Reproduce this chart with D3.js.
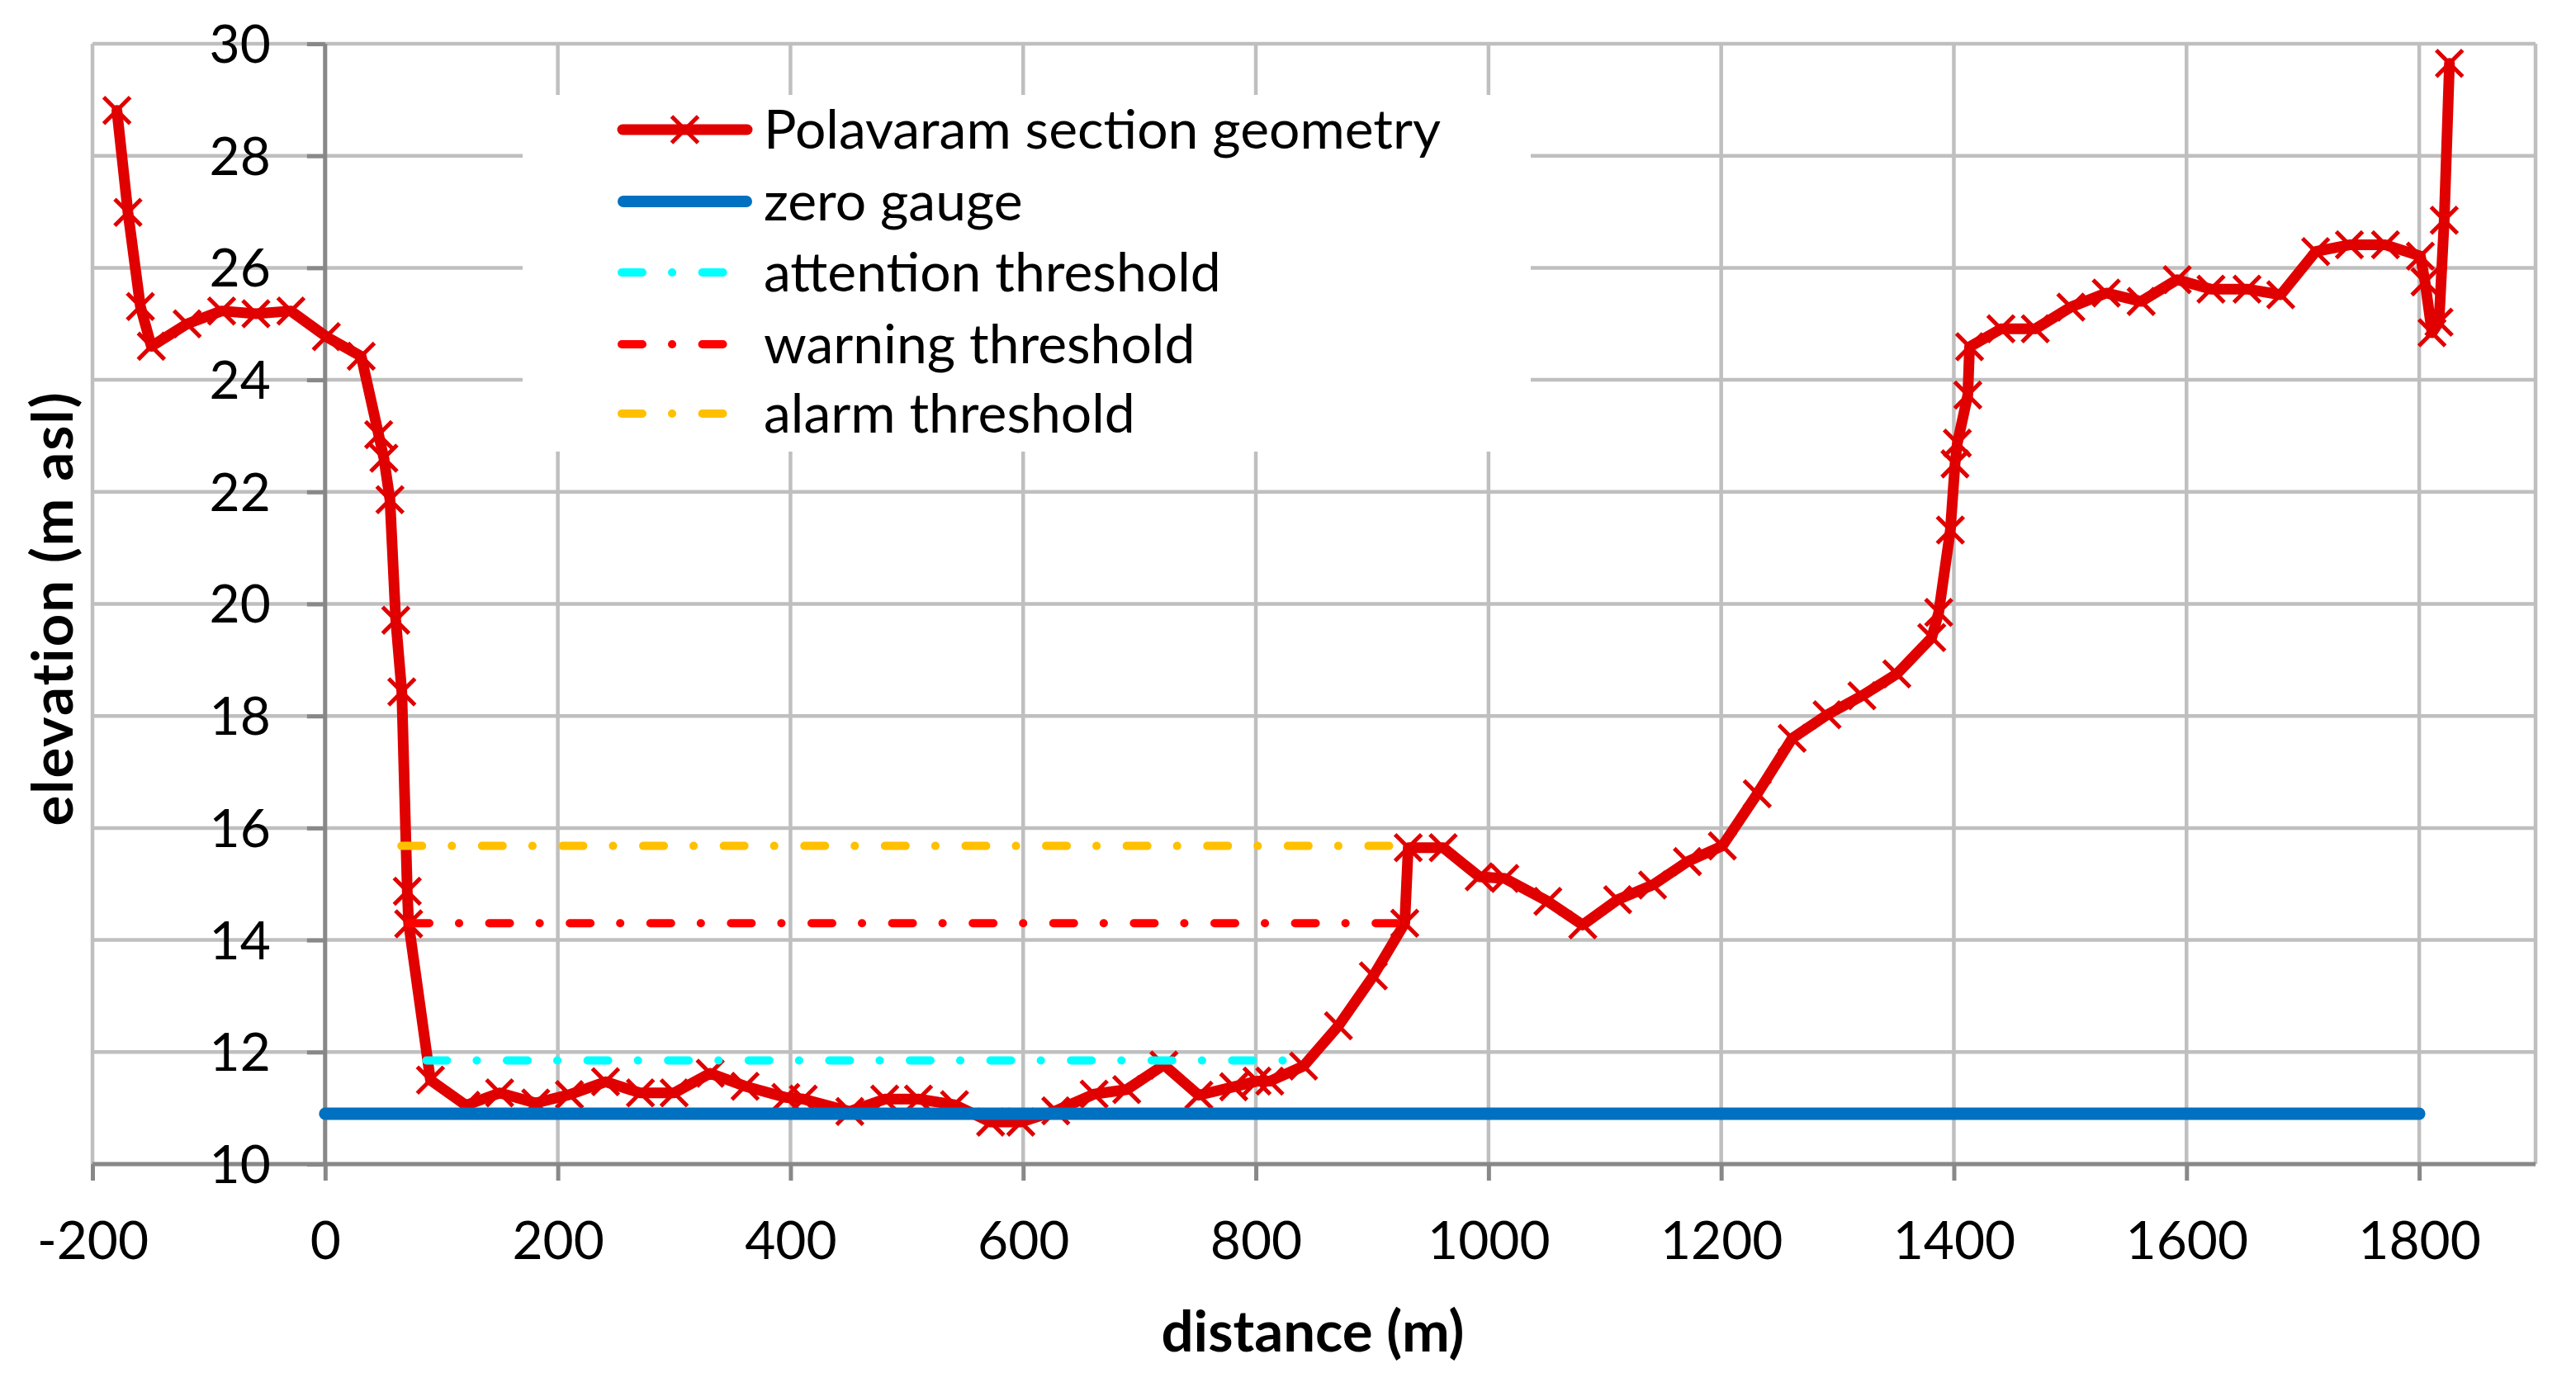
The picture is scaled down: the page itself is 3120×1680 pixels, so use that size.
<!DOCTYPE html>
<html>
<head>
<meta charset="utf-8">
<script src="https://cdn.jsdelivr.net/npm/d3@7"></script>
<style>
  html, body { margin: 0; padding: 0; background: #ffffff; }
  svg { display: block; }
  text { font-family: Lato, "Noto Sans", sans-serif; fill: #000; }
</style>
</head>
<body>
<svg id="chart" width="3120" height="1680"></svg>
<script>
// ---------------- data ----------------
const distance = [
  -179, -169.5, -158.8, -149.4, -118.6, -89, -59.5, -29.4, 1, 31,
  46, 50.5, 55.7, 60.7, 65.9, 70.6, 71.8, 90.5, 121, 150,
  181, 210, 241, 271, 300, 331, 361, 396, 411, 451,
  481, 510, 541, 572, 598, 628, 661, 689, 721, 751,
  781, 801, 812, 841, 871, 901, 928, 931, 961, 992,
  1014, 1051, 1081, 1111, 1141, 1171, 1201, 1231, 1261, 1291,
  1321, 1351, 1381, 1387, 1397, 1401, 1403, 1412, 1413.5, 1440.5,
  1470, 1500.6, 1531, 1561, 1592, 1621, 1652, 1681, 1711, 1740,
  1771, 1801, 1805, 1811, 1817, 1821.5, 1826
];
const elevation = [
  28.81, 26.99, 25.31, 24.60, 25.00, 25.23, 25.18, 25.23, 24.77, 24.42,
  23.02, 22.60, 21.86, 19.71, 18.43, 14.87, 14.29, 11.50, 11.05, 11.27,
  11.09, 11.24, 11.47, 11.27, 11.27, 11.62, 11.39, 11.19, 11.16, 10.94,
  11.16, 11.16, 11.06, 10.75, 10.75, 10.95, 11.25, 11.33, 11.77, 11.23,
  11.38, 11.48, 11.48, 11.75, 12.47, 13.36, 14.30, 15.65, 15.65, 15.13,
  15.10, 14.69, 14.27, 14.72, 14.98, 15.40, 15.68, 16.61, 17.60, 18.02,
  18.36, 18.75, 19.40, 19.85, 21.32, 22.50, 22.87, 23.73, 24.59, 24.91,
  24.91, 25.30, 25.55, 25.40, 25.79, 25.62, 25.62, 25.52, 26.29, 26.41,
  26.41, 26.21, 25.75, 24.84, 25.03, 26.85, 29.65
];
const zeroGaugeLevel = 10.9;
const zeroGaugeRange = [0, 1800];

const thresholdNames  = ["attention threshold", "warning threshold", "alarm threshold"];
const thresholdLevels = [11.85, 14.30, 15.68];
const thresholdStart  = [87, 71.8, 65.6];
const thresholdEnd    = [845, 928, 931];
const thresholdColors = ["#00FFFF", "#FF0000", "#FFC000"];

const seriesNames = ["Polavaram section geometry", "zero gauge"];
const xTicks = [-200, 0, 200, 400, 600, 800, 1000, 1200, 1400, 1600, 1800];
const yTicks = [10, 12, 14, 16, 18, 20, 22, 24, 26, 28, 30];
const xDomain = [-200, 1900];
const yDomain = [10, 30];
const xTitle = "distance (m)";
const yTitle = "elevation (m asl)";

// ---------------- layout ----------------
const svg = d3.select("#chart");
const plotL = 112, plotR = 3071, plotT = 53, plotB = 1410;
const x = d3.scaleLinear().domain(xDomain).range([plotL, plotR]);
const y = d3.scaleLinear().domain(yDomain).range([plotB, plotT]);

const gridColor = "#BFBFBF", axisColor = "#888888";
const geomColor = "#E00000", gaugeColor = "#0070C0";
const dashPattern = "25 36 0.1 36.5";
const fmt = d => String(d); // plain hyphen-minus like the original

// gridlines
const grid = svg.append("g");
grid.selectAll("line.v").data(xTicks.concat([xDomain[1]])).join("line")
  .attr("x1", d => x(d)).attr("x2", d => x(d))
  .attr("y1", y(yDomain[0])).attr("y2", y(yDomain[1]))
  .attr("stroke", gridColor).attr("stroke-width", 4.5);
grid.selectAll("line.h").data(yTicks).join("line")
  .attr("x1", x(xDomain[0])).attr("x2", x(xDomain[1]))
  .attr("y1", d => y(d)).attr("y2", d => y(d))
  .attr("stroke", gridColor).attr("stroke-width", 4.5);

// axes (x axis at y=10, y axis at x=0)
const xAxis = d3.axisBottom(x).tickValues(xTicks).tickSize(20).tickSizeOuter(0).tickFormat(fmt);
const gx = svg.append("g").attr("transform", `translate(0,${y(yDomain[0])})`).call(xAxis);
gx.attr("font-family", null).attr("font-size", null);
gx.select(".domain").attr("stroke", axisColor).attr("stroke-width", 5)
  .attr("d", `M${x(xDomain[0])},0H${x(xDomain[1])}`);
gx.selectAll(".tick line").attr("stroke", axisColor).attr("stroke-width", 5);
gx.selectAll(".tick text").attr("fill", "#000").attr("dy", null).attr("y", 115)
  .style("font-size", "64px");

const yAxis = d3.axisLeft(y).tickValues(yTicks).tickSize(22).tickSizeOuter(0).tickFormat(fmt);
const gy = svg.append("g").attr("transform", `translate(${x(0)},0)`).call(yAxis);
gy.attr("font-family", null).attr("font-size", null);
gy.select(".domain").attr("stroke", axisColor).attr("stroke-width", 5)
  .attr("d", `M0,${y(yDomain[0])}V${y(yDomain[1])}`);
gy.selectAll(".tick line").attr("stroke", axisColor).attr("stroke-width", 5);
gy.selectAll(".tick text").attr("fill", "#000").attr("dy", "0.35em").attr("x", -66)
  .style("font-size", "64px");

// geometry series
const pts = distance.map((d, i) => [d, elevation[i]]);
const line = d3.line().x(d => x(d[0])).y(d => y(d[1]));
svg.append("path").datum(pts).attr("d", line)
  .attr("fill", "none").attr("stroke", geomColor).attr("stroke-width", 13)
  .attr("stroke-linejoin", "round").attr("stroke-linecap", "round");

function xMarker(g, cx, cy, s) {
  g.append("path")
    .attr("d", `M${cx - s},${cy - s}L${cx + s},${cy + s}M${cx - s},${cy + s}L${cx + s},${cy - s}`)
    .attr("stroke", geomColor).attr("stroke-width", 5).attr("fill", "none");
}
const mk = svg.append("g");
pts.forEach(p => xMarker(mk, x(p[0]), y(p[1]), 16));

// zero gauge
svg.append("line")
  .attr("x1", x(zeroGaugeRange[0])).attr("x2", x(zeroGaugeRange[1]))
  .attr("y1", y(zeroGaugeLevel)).attr("y2", y(zeroGaugeLevel))
  .attr("stroke", gaugeColor).attr("stroke-width", 15).attr("stroke-linecap", "round");

// thresholds
thresholdLevels.forEach((lv, i) => {
  svg.append("line")
    .attr("x1", x(thresholdStart[i])).attr("x2", x(thresholdEnd[i]))
    .attr("y1", y(lv)).attr("y2", y(lv))
    .attr("stroke", thresholdColors[i]).attr("stroke-width", 10)
    .attr("stroke-linecap", "round").attr("stroke-dasharray", dashPattern);
});

// legend
const lg = svg.append("g");
lg.append("rect").attr("x", 633).attr("y", 115).attr("width", 1221).attr("height", 432).attr("fill", "#fff");
const rowY = [157, 244, 330, 417, 501];
const sx0 = 748, sx1 = 911, tx = 925;
lg.append("line").attr("x1", sx0 + 6).attr("x2", sx1 - 6).attr("y1", rowY[0]).attr("y2", rowY[0])
  .attr("stroke", geomColor).attr("stroke-width", 13).attr("stroke-linecap", "round");
xMarker(lg, (sx0 + sx1) / 2, rowY[0], 16);
lg.append("line").attr("x1", sx0 + 7).attr("x2", sx1 - 7).attr("y1", rowY[1]).attr("y2", rowY[1])
  .attr("stroke", gaugeColor).attr("stroke-width", 14).attr("stroke-linecap", "round");
thresholdColors.forEach((c, i) => {
  lg.append("line").attr("x1", sx0 + 5).attr("x2", sx1 - 6).attr("y1", rowY[i + 2]).attr("y2", rowY[i + 2])
    .attr("stroke", c).attr("stroke-width", 10).attr("stroke-linecap", "round")
    .attr("stroke-dasharray", dashPattern);
});
const legendLabels = seriesNames.concat(thresholdNames);
lg.selectAll("text.leg").data(legendLabels).join("text")
  .attr("x", tx).attr("y", (d, i) => rowY[i]).attr("dy", "0.35em")
  .style("font-size", "66px").text(d => d);

// axis titles
svg.append("text").attr("x", 1590).attr("y", 1637).attr("text-anchor", "middle")
  .style("font-size", "69px").style("font-weight", "bold").text(xTitle);
svg.append("text").attr("transform", "translate(88,737) rotate(-90)").attr("text-anchor", "middle")
  .style("font-size", "69px").style("font-weight", "bold").style("letter-spacing", "2px").text(yTitle);
</script>
</body>
</html>
